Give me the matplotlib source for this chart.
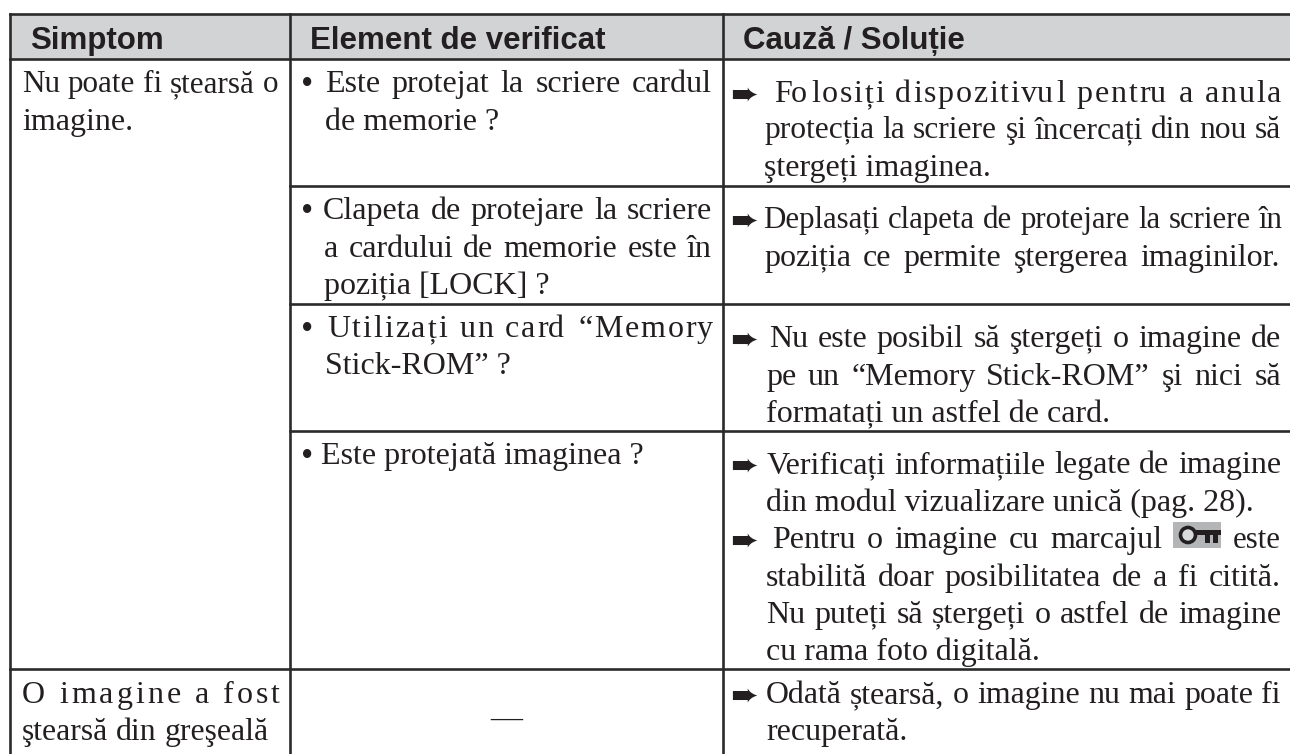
import matplotlib
matplotlib.use('Agg')
import matplotlib.pyplot as plt
from matplotlib.patches import Rectangle, Circle

#------------ DATA ----------------------------
headers = ['Simptom', 'Element de verificat', 'Cauză / Soluție']

symptom_lines = [
    'Nu poate fi ștearsă o', 'imagine.',
    'O imagine a fost', 'ştearsă din greşeală',
]
check_lines = [
    'Este protejat la scriere cardul', 'de memorie ?',
    'Clapeta de protejare la scriere', 'a cardului de memorie este în', 'poziția [LOCK] ?',
    'Utilizați un card “Memory', 'Stick-ROM” ?',
    'Este protejată imaginea ?',
]
cause_lines = [
    'Folosiți dispozitivul pentru a anula', 'protecția la scriere şi încercați din nou să', 'ştergeți imaginea.',
    'Deplasați clapeta de protejare la scriere în', 'poziția ce permite ştergerea imaginilor.',
    'Nu este posibil să ştergeți o imagine de', 'pe un “Memory Stick-ROM” şi nici să', 'formatați un astfel de card.',
    'Verificați informațiile legate de imagine', 'din modul vizualizare unică (pag. 28).',
    'Pentru o imagine cu marcajul', 'este',
    'stabilită doar posibilitatea de a fi citită.', 'Nu puteți să ștergeți o astfel de imagine', 'cu rama foto digitală.',
    'Odată ștearsă, o imagine nu mai poate fi', 'recuperată.',
]

#------------ LAYOUT ----------------------------
# Everything is in pixels of the 1290x754 picture.
col_x = [10, 290, 723]
row_y = [14, 59, 186, 304, 431, 669]

# (x start, x end or None, baseline, letter spaced)
symptom_pos = [(22, 278, 92, 0), (22, None, 130, 0), (22, 280, 703, 1), (22, 269, 740, 0)]
check_pos = [
    (325, 712, 92, 0), (325, None, 130, 0),
    (323, 712, 219, 0), (324, 712, 257, 0), (324, None, 294, 0),
    (327, 712, 337, 1), (325, None, 374, 0),
    (321, None, 464, 0),
]
cause_pos = [
    (774, 1281, 102, 1), (764, 1281, 138, 0), (764, None, 176, 0),
    (763, 1283, 228, 0), (764, 1280, 266, 0),
    (769, 1281, 347, 0), (766, 1281, 385, 0), (766, None, 422, 0),
    (767, 1281, 473, 0), (766, None, 511, 0),
    (772, 1162, 548, 0), (1233, 1281, 548, 0),
    (766, 1281, 586, 0), (766, 1281, 623, 0), (766, None, 660, 0),
    (766, 1281, 703, 0), (766, None, 740, 0),
]
bullet_y = [92, 219, 337, 464]
arrow_y = [102, 228, 347, 473, 548, 703]

ink = '#231f20'
line_color = '#2b2a2a'
body_size = 23

fig = plt.figure(figsize=(12.9, 7.54), dpi=100)
ax = fig.add_axes([0, 0, 1, 1])
ax.set_xlim(0, 1290)
ax.set_ylim(754, 0)
ax.axis('off')
renderer = fig.canvas.get_renderer()


def width(s, size):
    # The dot keeps trailing spaces in the measure.
    t = ax.text(0, 0, s + '.', family='Liberation Serif', fontsize=size)
    w = t.get_window_extent(renderer).width
    t.set_text('.')
    w -= t.get_window_extent(renderer).width
    t.remove()
    return w


def put(s, x, y, size):
    ax.text(x, y, s, family='Liberation Serif', fontsize=size, color=ink, va='baseline', ha='left')


def draw_line(s, x0, x1, y, spaced):
    size = body_size
    if x1 is None:
        put(s, x0, y, size)
        return
    # Squeeze the type a little when the line does not fit.
    natural = width(s, size)
    if natural > x1 - x0:
        size = size * (x1 - x0) / natural
    if spaced:
        extra = (x1 - x0 - width(s, size)) / (len(s) - 1)
        for i, c in enumerate(s):
            if c != ' ':
                put(c, x0 + width(s[:i], size) + extra * i, y, size)
        return
    words = s.split(' ')
    if len(words) == 1:
        put(s, x0, y, size)
        return
    used = sum(width(w, size) for w in words)
    gap = (x1 - x0 - used) / (len(words) - 1)
    x = x0
    for w in words:
        put(w, x, y, size)
        x += width(w, size) + gap


#------------ DRAW ----------------------------
# Header band
ax.add_patch(Rectangle((col_x[0], row_y[0]), 1290 - col_x[0], row_y[1] - row_y[0], facecolor='#d1d3d4', edgecolor='none'))

# Grid lines
lw = 1.9
ax.plot([col_x[0], 1290], [row_y[0], row_y[0]], color=line_color, lw=lw)
ax.plot([col_x[0], 1290], [row_y[1], row_y[1]], color=line_color, lw=lw)
for y in row_y[2:5]:
    ax.plot([col_x[1], 1290], [y, y], color=line_color, lw=lw)
ax.plot([col_x[0], 1290], [row_y[5], row_y[5]], color=line_color, lw=lw)
for x in col_x:
    ax.plot([x, x], [row_y[0], 754], color=line_color, lw=lw)

# Header text
header_x = [30, 310, 743]
for h, x in zip(headers, header_x):
    ax.text(x, 49, h, family='Liberation Sans', fontweight='bold', fontsize=22.5, color=ink, va='baseline')

# Body text
for lines, pos in [(symptom_lines, symptom_pos), (check_lines, check_pos), (cause_lines, cause_pos)]:
    for s, (x0, x1, y, spaced) in zip(lines, pos):
        draw_line(s, x0, x1, y, spaced)

for y in bullet_y:
    ax.text(307, y + 2, '•', family='Liberation Serif', fontsize=body_size + 2, color=ink, ha='center', va='baseline')
for y in arrow_y:
    ax.text(744, y + 3, '➨', family='DejaVu Sans', fontsize=24, color=ink, ha='center', va='baseline')

# The dash of the empty cell
ax.text(506, 727, '—', family='Liberation Serif', fontsize=body_size, color=ink, ha='center', va='baseline')

# Key icon
ax.add_patch(Rectangle((1173, 522), 48, 26, facecolor='#b3b5b7', edgecolor='none'))
ax.add_patch(Circle((1188, 535), 7.5, facecolor='#d9dadb', edgecolor=ink, lw=2.6))
ax.add_patch(Rectangle((1195, 530), 26, 5, facecolor=ink, edgecolor='none'))
ax.add_patch(Rectangle((1205, 535), 5, 8, facecolor=ink, edgecolor='none'))
ax.add_patch(Rectangle((1213, 535), 5, 8, facecolor=ink, edgecolor='none'))

plt.savefig('out.png', dpi=100)
